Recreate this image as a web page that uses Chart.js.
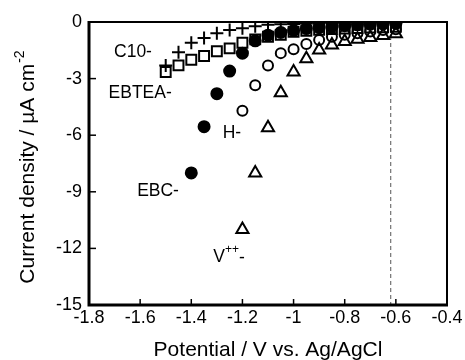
<!DOCTYPE html>
<html><head><meta charset="utf-8">
<script src="https://cdn.jsdelivr.net/npm/chart.js@4/dist/chart.umd.min.js"></script>
<style>html,body{margin:0;padding:0;background:#fff}#wrap{width:465px;height:360px}</style>
</head><body><div id="wrap"><canvas id="c" width="465" height="360"></canvas></div>
<script>
// ---- data ----
const xTickLabels = ["-1.8","-1.6","-1.4","-1.2","-1","-0.8","-0.6","-0.4"];
const yTickLabels = ["-15","-12","-9","-6","-3","0"];
const potC10   = [-1.5,-1.45,-1.4,-1.35,-1.3,-1.25,-1.2,-1.15,-1.1,-1.05,-1.0,-0.95,-0.9,-0.85,-0.8,-0.75,-0.7,-0.65,-0.6];
const curC10   = [-2.3,-1.6,-1.1,-0.85,-0.6,-0.42,-0.33,-0.22,-0.15,-0.12,-0.1,-0.08,-0.06,-0.05,-0.04,-0.03,-0.02,-0.02,-0.02];
const potEBTEA = [-1.5,-1.45,-1.4,-1.35,-1.3,-1.25,-1.2,-1.15,-1.1,-1.05,-1.0,-0.95,-0.9,-0.85,-0.8,-0.75,-0.7,-0.65,-0.6];
const curEBTEA = [-2.65,-2.3,-2.0,-1.8,-1.55,-1.4,-1.1,-0.92,-0.78,-0.68,-0.52,-0.46,-0.42,-0.38,-0.35,-0.32,-0.3,-0.28,-0.25];
const potEBC   = [-1.4,-1.35,-1.3,-1.25,-1.2,-1.15,-1.1,-1.05,-1.0,-0.95,-0.9,-0.85,-0.8,-0.75,-0.7,-0.65,-0.6];
const curEBC   = [-8.0,-5.55,-3.8,-2.6,-1.65,-1.0,-0.7,-0.55,-0.45,-0.35,-0.3,-0.25,-0.2,-0.15,-0.12,-0.1,-0.08];
const potH     = [-1.2,-1.15,-1.1,-1.05,-1.0,-0.95,-0.9,-0.85,-0.8,-0.75,-0.7,-0.65,-0.6];
const curH     = [-4.7,-3.35,-2.3,-1.65,-1.45,-1.17,-0.95,-0.78,-0.68,-0.6,-0.5,-0.42,-0.38];
const potV     = [-1.2,-1.15,-1.1,-1.05,-1.0,-0.95,-0.9,-0.85,-0.8,-0.75,-0.7,-0.65,-0.6];
const curV     = [-11.0,-8.0,-5.6,-3.75,-2.65,-1.95,-1.48,-1.22,-1.04,-0.92,-0.82,-0.72,-0.62];
const seriesNames = ["C10-","EBTEA-","EBC-","H-","V++-"];
const restPotential = -0.62;

const pts = (xs, ys) => xs.map((x, i) => ({x, y: ys[i]}));
const FONT = '"Liberation Sans", Arial, sans-serif';

const decor = {
  id: 'decor',
  beforeDatasetsDraw(chart) {
    const {ctx, chartArea: a, scales: {x}} = chart;
    ctx.save();
    const px = x.getPixelForValue(restPotential);
    ctx.strokeStyle = '#555'; ctx.lineWidth = 1; ctx.setLineDash([4, 3]);
    ctx.beginPath(); ctx.moveTo(px, a.top); ctx.lineTo(px, a.bottom); ctx.stroke();
    ctx.restore();
  },
  afterDatasetsDraw(chart) {
    const {ctx, chartArea: a, scales: {x, y}} = chart;
    ctx.save();
    ctx.strokeStyle = '#000';
    ctx.lineWidth = 1.5;
    x.ticks.forEach(t => { const p = x.getPixelForValue(t.value);
      ctx.beginPath(); ctx.moveTo(p, a.bottom); ctx.lineTo(p, a.bottom - 6); ctx.stroke(); });
    y.ticks.forEach(t => { const p = y.getPixelForValue(t.value);
      ctx.beginPath(); ctx.moveTo(a.left, p); ctx.lineTo(a.left + 7, p); ctx.stroke(); });
    ctx.lineWidth = 2;
    ctx.beginPath(); ctx.moveTo(a.left, a.top); ctx.lineTo(a.right, a.top); ctx.lineTo(a.right, a.bottom); ctx.stroke();
    ctx.lineWidth = 3;
    ctx.beginPath(); ctx.moveTo(a.left, a.top - 1); ctx.lineTo(a.left, a.bottom); ctx.lineTo(a.right + 1, a.bottom); ctx.stroke();

    ctx.fillStyle = '#000';
    const lab = chart.options.plugins.decor.labels;
    ctx.font = '17.5px ' + FONT; ctx.textBaseline = 'middle';
    lab.forEach(l => {
      const cx = x.getPixelForValue(l.x), cy = y.getPixelForValue(l.y);
      if (l.sup) {
        const w1 = ctx.measureText(l.base).width;
        ctx.font = '12px ' + FONT; const w2 = ctx.measureText(l.sup).width;
        ctx.font = '17.5px ' + FONT; const w3 = ctx.measureText(l.tail).width;
        let sx = cx - (w1 + w2 + w3) / 2;
        ctx.textAlign = 'left';
        ctx.fillText(l.base, sx, cy); sx += w1;
        ctx.font = '12px ' + FONT; ctx.fillText(l.sup, sx, cy - 7); sx += w2;
        ctx.font = '17.5px ' + FONT; ctx.fillText(l.tail, sx, cy + 1);
      } else {
        ctx.textAlign = 'center'; ctx.fillText(l.text, cx, cy);
      }
    });
    ctx.font = '21px ' + FONT; ctx.textAlign = 'center'; ctx.textBaseline = 'alphabetic';
    ctx.fillText('Potential / V vs. Ag/AgCl', (a.left + a.right) / 2, 356);
    ctx.translate(34, (a.top + a.bottom) / 2 + 4);
    ctx.rotate(-Math.PI / 2);
    const main = 'Current density / \u00b5A cm', sup = '-2';
    ctx.font = '21px ' + FONT; const wm = ctx.measureText(main).width;
    ctx.font = '14px ' + FONT; const ws = ctx.measureText(sup).width;
    let sx = -(wm + ws) / 2;
    ctx.textAlign = 'left';
    ctx.font = '21px ' + FONT; ctx.fillText(main, sx, 0);
    ctx.font = '14px ' + FONT; ctx.fillText(sup, sx + wm + 1, -10);
    ctx.restore();
  }
};

const mk = (label, data, style, radius, fill) => ({
  label, data, showLine: false, pointStyle: style, pointRadius: radius, pointHoverRadius: radius,
  borderColor: '#000', backgroundColor: fill, pointBorderWidth: 2, borderWidth: 2
});

new Chart(document.getElementById('c'), {
  type: 'scatter',
  data: { datasets: [
    mk(seriesNames[4], pts(potV, curV), 'triangle', 7, 'rgba(0,0,0,0)'),
    mk(seriesNames[3], pts(potH, curH), 'circle', 5, 'rgba(0,0,0,0)'),
    mk(seriesNames[2], pts(potEBC, curEBC), 'circle', 5.5, '#000'),
    mk(seriesNames[1], pts(potEBTEA, curEBTEA), 'rect', 7, 'rgba(0,0,0,0)'),
    mk(seriesNames[0], pts(potC10, curC10), 'cross', 6.5, 'rgba(0,0,0,0)')
  ]},
  options: {
    responsive: false, animation: false, events: [],
    layout: { padding: { top: 22, right: 18, left: 0, bottom: 0 } },
    plugins: {
      legend: { display: false }, tooltip: { enabled: false },
      decor: { labels: [
        { text: 'C10-', x: -1.628, y: -1.59 },
        { text: 'EBTEA-', x: -1.60, y: -3.76 },
        { text: 'H-', x: -1.241, y: -5.88 },
        { text: 'EBC-', x: -1.53, y: -8.96 },
        { base: 'V', sup: '++', tail: '-', x: -1.252, y: -12.45 }
      ] }
    },
    scales: {
      x: { type: 'linear', min: -1.8, max: -0.4, offset: false,
        grid: { display: false, drawTicks: false }, border: { display: false },
        afterBuildTicks: s => { s.ticks = xTickLabels.map(v => ({ value: parseFloat(v) })); },
        afterFit: s => { s.height = 55; },
        ticks: { padding: 2, color: '#000', font: { family: FONT, size: 18 }, maxRotation: 0, autoSkip: false,
          callback: (v, i) => xTickLabels[i] } },
      y: { type: 'linear', min: -15, max: 0, offset: false,
        grid: { display: false, drawTicks: false }, border: { display: false },
        afterBuildTicks: s => { s.ticks = yTickLabels.map(v => ({ value: parseFloat(v) })); },
        afterFit: s => { s.width = 89; },
        ticks: { padding: 7, color: '#000', font: { family: FONT, size: 18 }, autoSkip: false,
          callback: (v, i) => yTickLabels[i] } }
    }
  },
  plugins: [decor]
});
</script></body></html>
